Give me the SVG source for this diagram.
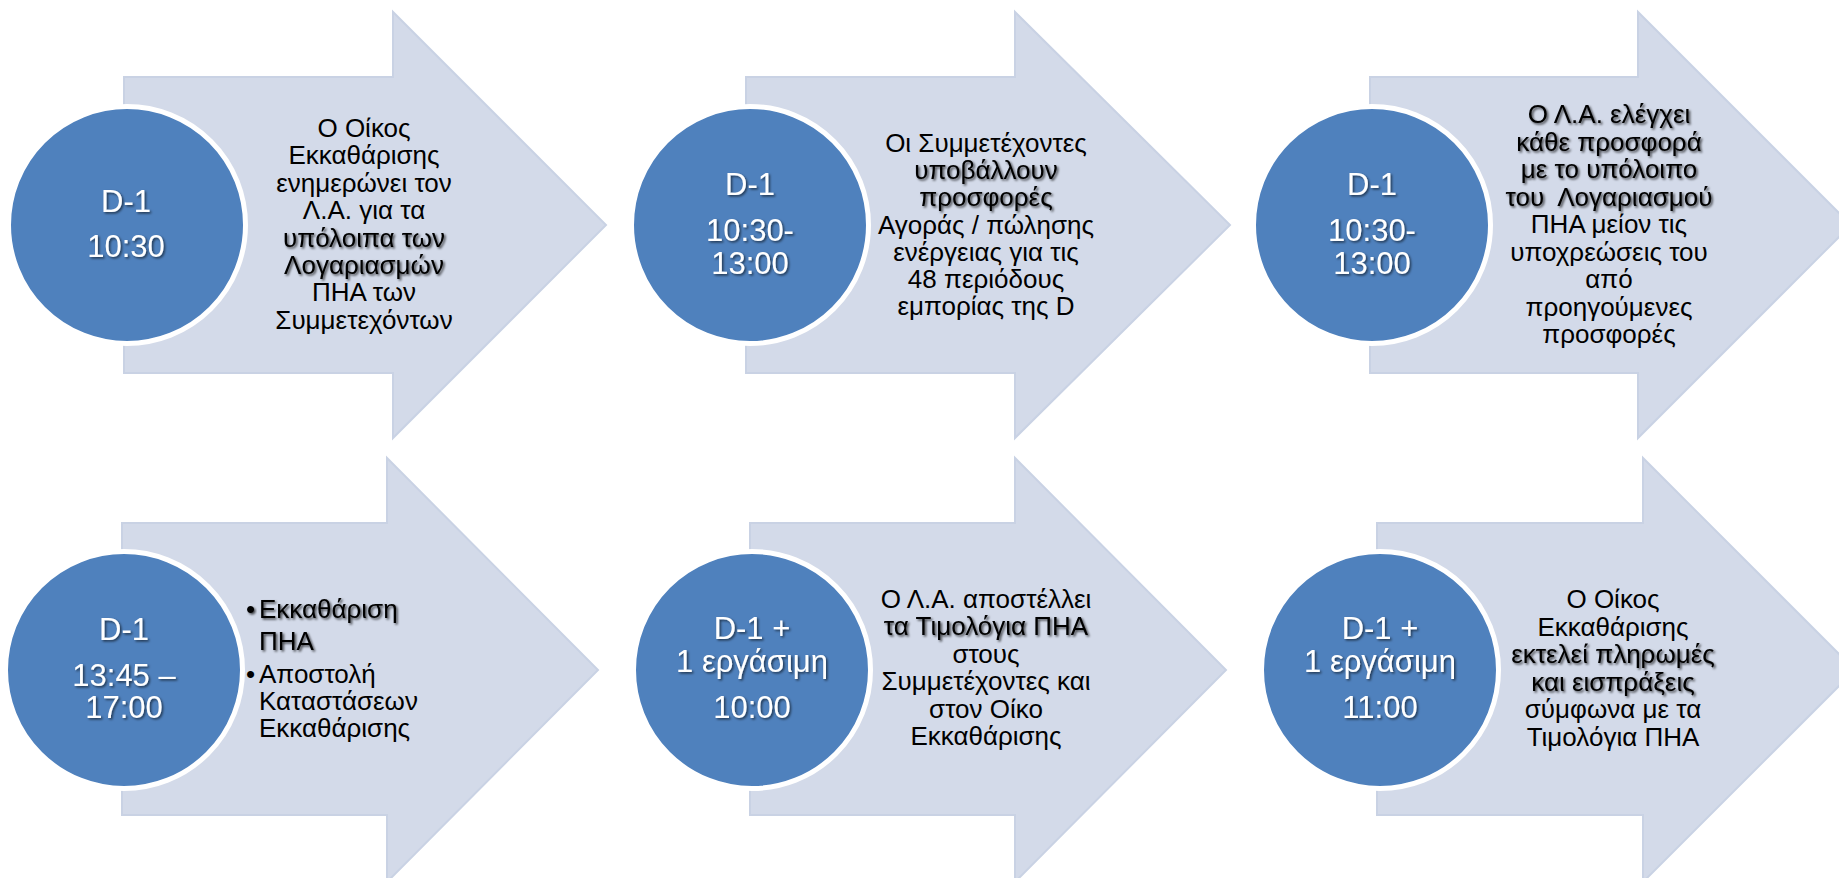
<svg xmlns="http://www.w3.org/2000/svg" width="1839" height="878" viewBox="0 0 1839 878">
<defs>
<style>
.ar{fill:#D3DAE9;stroke:#C9D2E4;stroke-width:2}
.ci{fill:#4F81BD;stroke:#FFFFFF;stroke-width:5}
.t{font-family:"Liberation Sans",Arial,sans-serif;font-size:26px;fill:#000;text-anchor:middle}
.l{text-anchor:start}
.c{font-family:"Liberation Sans",Arial,sans-serif;font-size:31px;fill:#FFF;text-anchor:middle;filter:url(#wsh)}
.sh{filter:url(#bsh)}
</style>
<filter id="bsh" x="-10%" y="-30%" width="120%" height="160%"><feDropShadow dx="1.6" dy="1.6" stdDeviation="1" flood-color="#000" flood-opacity="0.7"/></filter>
<filter id="wsh" x="-10%" y="-30%" width="120%" height="160%"><feDropShadow dx="1.5" dy="1.5" stdDeviation="1" flood-color="#000" flood-opacity="0.6"/></filter>
</defs>
<rect width="1839" height="878" fill="#FFFFFF"/>
<g id="connectors"/>

<g id="step1">
<path class="ar" d="M124,77 H393 V12 L606,225 L393,438 V373 H124 Z"/>
<circle class="ci" cx="127" cy="225" r="118.5"/>
<text class="c" x="126" y="212">D-1</text>
<text class="c" x="126" y="257">10:30</text>
<text class="t" x="364" y="137">Ο Οίκος</text>
<text class="t" x="364" y="164.4">Εκκαθάρισης</text>
<text class="t" x="364" y="191.8">ενημερώνει τον</text>
<text class="t" x="364" y="219.2">Λ.Α. για τα</text>
<text class="t sh" x="364" y="246.6">υπόλοιπα των</text>
<text class="t sh" x="364" y="274">Λογαριασμών</text>
<text class="t" x="364" y="301.4">ΠΗΑ των</text>
<text class="t" x="364" y="328.8">Συμμετεχόντων</text>
</g>

<g id="step2">
<path class="ar" d="M746,77 H1015 V12 L1230,225 L1015,438 V373 H746 Z"/>
<circle class="ci" cx="750" cy="225" r="118.5"/>
<text class="c" x="750" y="195">D-1</text>
<text class="c" x="750" y="241">10:30-</text>
<text class="c" x="750" y="274">13:00</text>
<text class="t" x="986" y="152">Οι Συμμετέχοντες</text>
<text class="t sh" x="986" y="179.2">υποβάλλουν</text>
<text class="t sh" x="986" y="206.4">προσφορές</text>
<text class="t" x="986" y="233.6">Αγοράς / πώλησης</text>
<text class="t" x="986" y="260.8">ενέργειας για τις</text>
<text class="t" x="986" y="288">48 περιόδους</text>
<text class="t" x="986" y="315.2">εμπορίας της D</text>
</g>

<g id="step3">
<path class="ar" d="M1370,77 H1638 V12 L1851,225 L1638,438 V373 H1370 Z"/>
<circle class="ci" cx="1372" cy="225" r="118.5"/>
<text class="c" x="1372" y="195">D-1</text>
<text class="c" x="1372" y="241">10:30-</text>
<text class="c" x="1372" y="274">13:00</text>
<text class="t sh" x="1609" y="123">Ο Λ.Α. ελέγχει</text>
<text class="t sh" x="1609" y="150.5">κάθε προσφορά</text>
<text class="t sh" x="1609" y="178">με το υπόλοιπο</text>
<text class="t sh" x="1609" y="205.5" xml:space="preserve">του  Λογαριασμού</text>
<text class="t" x="1609" y="233">ΠΗΑ μείον τις</text>
<text class="t" x="1609" y="260.5">υποχρεώσεις του</text>
<text class="t" x="1609" y="288">από</text>
<text class="t" x="1609" y="315.5">προηγούμενες</text>
<text class="t" x="1609" y="343">προσφορές</text>
</g>

<g id="step4">
<path class="ar" d="M122,523 H387 V458 L598,670 L387,882 V815 H122 Z"/>
<circle class="ci" cx="124" cy="670" r="118.5"/>
<text class="c" x="124" y="640">D-1</text>
<text class="c" x="124" y="686">13:45 –</text>
<text class="c" x="124" y="718">17:00</text>
<text class="t l sh" x="246" y="618">•</text>
<text class="t l sh" x="259" y="618">Εκκαθάριση</text>
<text class="t l sh" x="259" y="650">ΠΗΑ</text>
<text class="t l" x="246" y="683">•</text>
<text class="t l" x="259" y="683">Αποστολή</text>
<text class="t l" x="259" y="710">Καταστάσεων</text>
<text class="t l" x="259" y="737">Εκκαθάρισης</text>
</g>

<g id="step5">
<path class="ar" d="M750,523 H1015 V458 L1226,670 L1015,882 V815 H750 Z"/>
<circle class="ci" cx="752" cy="670" r="118.5"/>
<text class="c" x="752" y="639">D-1 +</text>
<text class="c" x="752" y="672">1 εργάσιμη</text>
<text class="c" x="752" y="718">10:00</text>
<text class="t" x="986" y="608">Ο Λ.Α. αποστέλλει</text>
<text class="t sh" x="986" y="635.4">τα Τιμολόγια ΠΗΑ</text>
<text class="t" x="986" y="662.8">στους</text>
<text class="t" x="986" y="690.2">Συμμετέχοντες και</text>
<text class="t" x="986" y="717.6">στον Οίκο</text>
<text class="t" x="986" y="745">Εκκαθάρισης</text>
</g>

<g id="step6">
<path class="ar" d="M1377,523 H1643 V458 L1855,670 L1643,882 V815 H1377 Z"/>
<circle class="ci" cx="1380" cy="670" r="118.5"/>
<text class="c" x="1380" y="639">D-1 +</text>
<text class="c" x="1380" y="672">1 εργάσιμη</text>
<text class="c" x="1380" y="718">11:00</text>
<text class="t" x="1613" y="608">Ο Οίκος</text>
<text class="t" x="1613" y="635.6">Εκκαθάρισης</text>
<text class="t sh" x="1613" y="663.2">εκτελεί πληρωμές</text>
<text class="t sh" x="1613" y="690.8">και εισπράξεις</text>
<text class="t" x="1613" y="718.4">σύμφωνα με τα</text>
<text class="t" x="1613" y="746">Τιμολόγια ΠΗΑ</text>
</g>
</svg>
